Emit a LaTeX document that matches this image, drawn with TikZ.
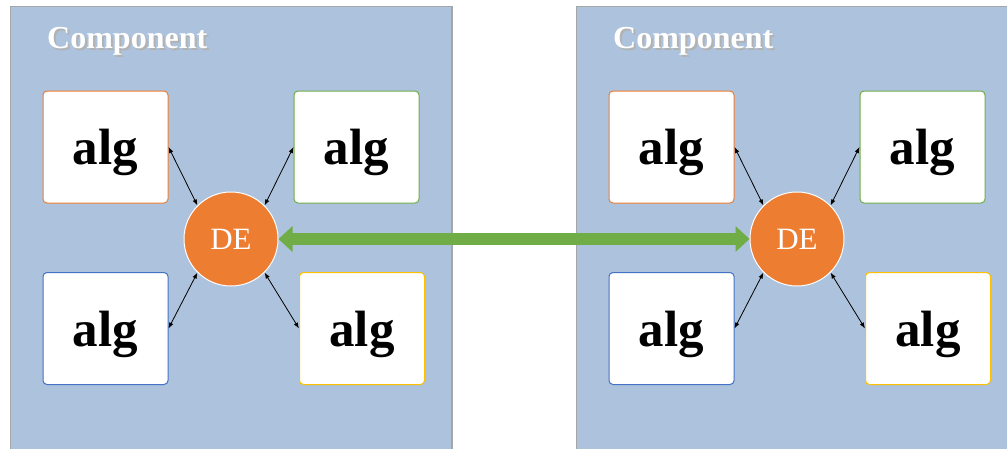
\documentclass[tikz,border=0pt]{standalone}
\usepackage{fontspec}
\setmainfont{Liberation Serif}
\usetikzlibrary{arrows.meta}
\definecolor{panelblue}{HTML}{ADC2DC}
\definecolor{panelgray}{HTML}{A6A6A6}
\definecolor{offorange}{HTML}{ED7D31}
\definecolor{offgreen}{HTML}{70AD47}
\definecolor{offblue}{HTML}{4472C4}
\definecolor{offgold}{HTML}{FFC000}
\newcommand{\shadowed}[1]{\rlap{\hspace{2pt}\raisebox{-2.5pt}{\textcolor{black!30}{#1}}}\textcolor{white}{#1}}
\tikzset{
  algbox/.style={draw=#1, fill=white, line width=1pt, rounded corners=4pt,
    minimum width=125pt, minimum height=112pt, inner sep=0pt, text depth=0pt,
    font=\fontsize{51}{51}\selectfont\bfseries},
  denode/.style={circle, draw=white, fill=offorange, line width=1pt,
    minimum size=94pt, inner sep=0pt, text=white, font=\fontsize{31}{31}\selectfont},
  comptitle/.style={anchor=base west, inner sep=0pt, font=\fontsize{32}{32}\selectfont\bfseries},
  link/.style={{Latex[length=6pt,width=4.5pt]}-{Latex[length=6pt,width=4.5pt]}, line width=0.8pt},
}
\begin{document}
\begin{tikzpicture}[x=1pt, y=-1pt]
\clip (0,0) rectangle (1007,448);
% left component
\begin{scope}
\draw[panelgray, fill=panelblue, line width=1.2pt] (10.5,6.5) rectangle (452,470);
\node[comptitle] (titleL) at (47,48) {\shadowed{Component}};
\node[algbox=offorange] (orL) at (105.5,147) {alg};
\node[algbox=offgreen] (grL) at (356.5,147) {alg};
\node[algbox=offblue] (blL) at (105.5,328.5) {alg};
\node[algbox=offgold] (goL) at (362,328.5) {alg};
\node[denode] (deL) at (231,239) {DE};
\draw[link] (orL.east) -- (deL.135);
\draw[link] (grL.west) -- (deL.45);
\draw[link] (blL.east) -- (deL.225);
\draw[link] (goL.west) -- (deL.315);
\end{scope}
% right component
\begin{scope}[xshift=566pt]
\draw[panelgray, fill=panelblue, line width=1.2pt] (10.5,6.5) rectangle (452,470);
\node[comptitle] (titleR) at (47,48) {\shadowed{Component}};
\node[algbox=offorange] (orR) at (105.5,147) {alg};
\node[algbox=offgreen] (grR) at (356.5,147) {alg};
\node[algbox=offblue] (blR) at (105.5,328.5) {alg};
\node[algbox=offgold] (goR) at (362,328.5) {alg};
\node[denode] (deR) at (231,239) {DE};
\draw[link] (orR.east) -- (deR.135);
\draw[link] (grR.west) -- (deR.45);
\draw[link] (blR.east) -- (deR.225);
\draw[link] (goR.west) -- (deR.315);
\end{scope}
% exchange between the two DE
\draw[offgreen, line width=12pt, {Triangle[length=14pt,width=25pt]}-{Triangle[length=14pt,width=25pt]}] (deL.east) -- (deR.west);
\end{tikzpicture}
\end{document}
